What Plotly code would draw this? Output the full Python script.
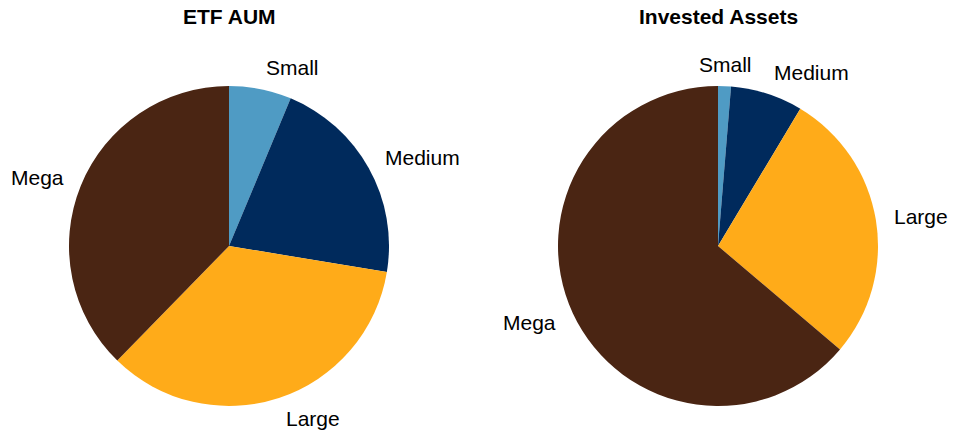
import math
import plotly.graph_objects as go

# Share of each size bucket (percent)
segments = ["Small", "Medium", "Large", "Mega"]
etf_aum = [6.3, 21.3, 34.7, 37.7]
invested_assets = [1.3, 7.3, 27.6, 63.8]
titles = ["ETF AUM", "Invested Assets"]

colors = ["#4F9BC4", "#002A5C", "#FFAB19", "#4A2513"]

W, H = 959, 438
R = 160
centers = [(229, 246), (718, 246)]
FONT = "Liberation Sans, Arial, sans-serif"

fig = go.Figure()
annotations = []

for (cx, cy), values, title in zip(centers, [etf_aum, invested_assets], titles):
    fig.add_trace(go.Pie(
        labels=segments,
        values=values,
        sort=False,
        direction="clockwise",
        rotation=0,
        textinfo="none",
        hoverinfo="label+percent",
        marker=dict(colors=colors, line=dict(width=0)),
        domain=dict(x=[(cx - R) / W, (cx + R) / W],
                    y=[1 - (cy + R) / H, 1 - (cy - R) / H]),
        showlegend=False,
    ))

    # Slice labels placed just outside each slice's mid-angle
    total = sum(values)
    cum = 0.0
    for name, v in zip(segments, values):
        mid = (cum + v / 2) / total * 2 * math.pi
        cum += v
        s, c = math.sin(mid), math.cos(mid)
        px = cx + 1.1 * R * s
        py = cy - 1.1 * R * c - 6 * c
        if abs(s) < 0.1:
            xa = "center"
        elif s > 0:
            xa = "left"
        else:
            xa = "right"
        annotations.append(dict(
            x=px / W, y=1 - py / H, xref="paper", yref="paper",
            text=name, showarrow=False, xanchor=xa, yanchor="middle",
            font=dict(family=FONT, size=21, color="#000000"),
        ))

    annotations.append(dict(
        x=cx / W, y=1 - 17 / H, xref="paper", yref="paper",
        text="<b>" + title + "</b>", showarrow=False,
        xanchor="center", yanchor="middle",
        font=dict(family=FONT, size=21, color="#000000"),
    ))

fig.update_layout(
    width=W, height=H,
    margin=dict(l=0, r=0, t=0, b=0),
    paper_bgcolor="#FFFFFF",
    plot_bgcolor="#FFFFFF",
    annotations=annotations,
)

fig.write_html("out.html")
